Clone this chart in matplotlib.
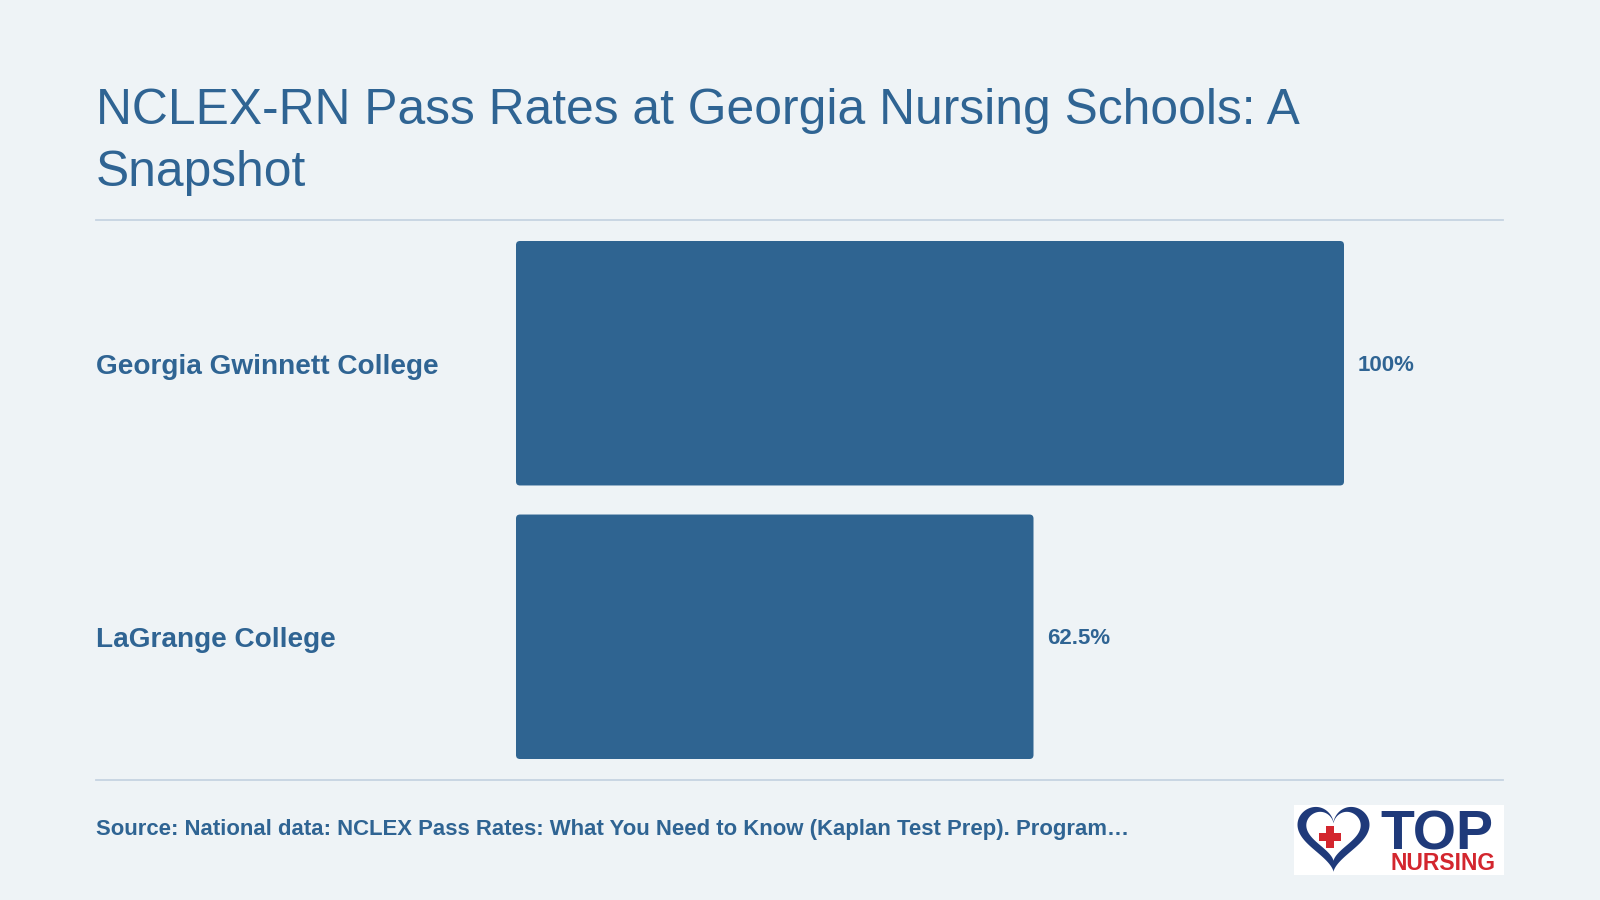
import numpy as np
import matplotlib
matplotlib.use('Agg')
import matplotlib.pyplot as plt
from matplotlib.patches import FancyBboxPatch, Polygon, Rectangle
from matplotlib.transforms import blended_transform_factory

plt.rcParams['font.family'] = ['Liberation Sans', 'DejaVu Sans']

# data
schools = ["Georgia Gwinnett College", "LaGrange College"]
pass_rates = [100, 62.5]
value_labels = ["100%", "62.5%"]
title = "NCLEX-RN Pass Rates at Georgia Nursing Schools: A\nSnapshot"
source = "Source: National data: NCLEX Pass Rates: What You Need to Know (Kaplan Test Prep). Program\u2026"

BG = '#eef3f6'
BLUE = '#2f6491'
TEXT = '#2f6493'
RULE = '#c6d3e2'
W, H = 1600, 900


def px(x, y, w, h):
    # pixel box (from top-left) -> figure fraction rect
    return [x / W, 1 - (y + h) / H, w / W, h / H]


fig = plt.figure(figsize=(16, 9), dpi=100, facecolor=BG)

fig.text(96 / W, 1 - 124 / H, title.split('\n')[0], fontsize=35.8, color=TEXT,
         va='baseline', ha='left')
fig.text(96 / W, 1 - 186 / H, title.split('\n')[1], fontsize=35.8, color=TEXT,
         va='baseline', ha='left')

# rules
for y in (220, 780):
    fig.add_artist(plt.Line2D([96 / W, 1503 / W], [1 - y / H] * 2, color=RULE, lw=1.3,
                              transform=fig.transFigure))

# bars
ax = fig.add_axes(px(516, 241, 828, 518))
ax.set_facecolor('none')
bar_h = 244 / 273
bars = ax.barh(range(len(schools)), pass_rates, height=bar_h, color=BLUE)
ax.set_xlim(0, 100)
ax.set_ylim(1 + bar_h / 2, -bar_h / 2)
ax.axis('off')

# rounded corners
rx = 4 / 8.28
ry = 4 / 273
for b in bars:
    b.set_visible(False)
    ax.add_patch(FancyBboxPatch((b.get_x(), b.get_y()), b.get_width(), b.get_height(),
                                boxstyle=f"round,pad=0,rounding_size={rx}",
                                mutation_aspect=ry / rx, fc=BLUE, ec='none'))

trans = blended_transform_factory(fig.transFigure, ax.transData)
for i, (name, v, lab) in enumerate(zip(schools, pass_rates, value_labels)):
    ax.text(96 / W, i + 0.012, name, transform=trans, fontsize=20.2, fontweight='bold',
            color=TEXT, va='center', ha='left')
    ax.text(v + 14 / 8.28, i + 0.008, lab, fontsize=16, fontweight='bold', color=TEXT,
            va='center', ha='left')

fig.text(96 / W, 1 - 829 / H, source, fontsize=15.9, fontweight='bold', color=TEXT,
         va='center', ha='left')

# logo
lax = fig.add_axes(px(1294, 805, 210, 70))
lax.set_xlim(0, 210)
lax.set_ylim(0, 70)
lax.set_facecolor('white')
lax.set_xticks([])
lax.set_yticks([])
for s in lax.spines.values():
    s.set_visible(False)
t = np.linspace(0, 2 * np.pi, 200)
hx = 16 * np.sin(t) ** 3
hy = 13 * np.cos(t) - 5 * np.cos(2 * t) - 2 * np.cos(3 * t) - np.cos(4 * t)
lax.add_patch(Polygon(np.c_[39.5 + 2.25 * hx, 3 + 2.25 * (hy + 17)], closed=True,
                      fc='#1f3a7a', ec='none'))
lax.add_patch(Polygon(np.c_[39.5 + 1.7 * hx, 14 + 1.7 * (hy + 17)], closed=True,
                      fc='white', ec='none'))
lax.add_patch(Rectangle((25, 34), 22, 8, fc='#d3262e', ec='none'))
lax.add_patch(Rectangle((32, 27), 8, 22, fc='#d3262e', ec='none'))
lax.text(86, 25, "TOP", fontsize=40, fontweight='bold', color='#1f3a7a', ha='left',
         va='baseline')
lax.text(96, 5, "NURSING", fontsize=16.5, fontweight='bold', color='#d3262e', ha='left',
         va='baseline')

fig.savefig('out.png', dpi=100, facecolor=BG)
